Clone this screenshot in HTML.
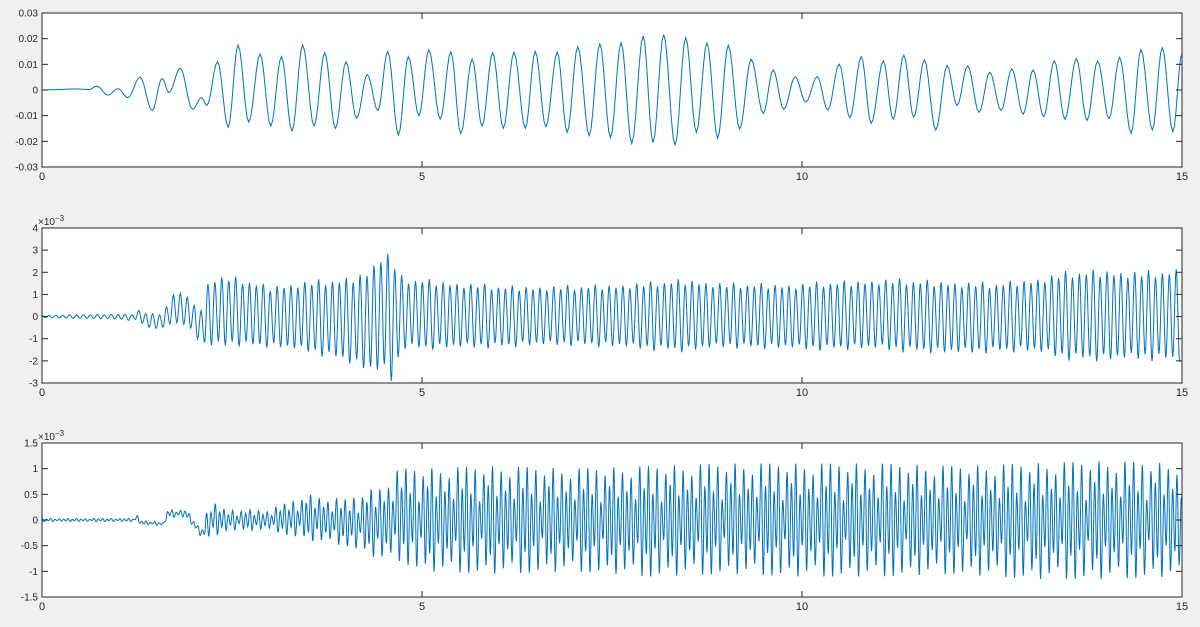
<!DOCTYPE html>
<html><head><meta charset="utf-8"><style>
html,body{margin:0;padding:0;background:#f0f0f0;}
svg{display:block;font-family:"Liberation Sans",sans-serif;}
</style></head><body>
<svg id="chart" width="1200" height="627" viewBox="0 0 1200 627"></svg>
<script>
// ---------- data: chart 1 (explicit extrema) ----------
const top_t = [0,0.45,0.62,0.72,0.87,1.0,1.13,1.29,1.45,1.58,1.67,1.82,1.98,2.1,2.17,2.31,2.45,2.58,2.72,2.87,3.01,3.15,3.29,3.43,3.58,3.72,3.86,4.0,4.14,4.28,4.42,4.55,4.69,4.82,4.96,
5.09,5.24,5.38,5.51,5.66,5.79,5.93,6.07,6.21,6.36,6.49,6.63,6.78,6.91,7.05,7.20,7.34,7.48,7.62,7.76,7.91,8.04,8.18,8.33,8.47,8.61,8.75,8.89,9.03,9.18,9.33,9.49,9.62,9.76,9.91,10.05,
10.2,10.34,10.49,10.63,10.78,10.91,11.07,11.2,11.34,11.47,11.61,11.76,11.91,12.04,12.18,12.33,12.47,12.62,12.76,12.91,13.04,13.18,13.32,13.46,13.61,13.75,13.89,14.04,14.18,14.33,14.46,14.61,14.74,14.88,15.0];
const top_v = [0,0.0004,0.0002,0.0015,-0.002,0.0005,-0.003,0.005,-0.008,0.0045,-0.001,0.0085,-0.0075,-0.003,-0.006,0.011,-0.0145,0.0175,-0.0125,0.014,-0.014,0.013,-0.016,0.0175,-0.014,0.0145,-0.015,0.011,-0.011,0.006,-0.008,0.015,-0.0175,0.013,-0.010,
0.0156,-0.0114,0.0149,-0.017,0.012,-0.014,0.0145,-0.0149,0.0147,-0.0149,0.015,-0.0143,0.0147,-0.0165,0.0169,-0.0178,0.018,-0.0186,0.0184,-0.0208,0.021,-0.0205,0.0216,-0.0216,0.0204,-0.0165,0.0184,-0.0188,0.0174,-0.0152,0.012,-0.0091,0.0078,-0.0075,0.0052,-0.0047,
0.0052,-0.0078,0.010,-0.0108,0.013,-0.013,0.0113,-0.0114,0.0136,-0.0106,0.0117,-0.0156,0.0095,-0.006,0.0094,-0.0087,0.0069,-0.008,0.0082,-0.0094,0.0078,-0.0104,0.0114,-0.0114,0.0123,-0.0119,0.0113,-0.0112,0.0127,-0.0169,0.0158,-0.0156,0.0165,-0.0162,0.0143];

// ---------- data: chart 2 (envelope, units 1e-3) ----------
const mid_envT  = [0,1.0,1.2,1.25,1.4,1.6,1.7,1.9,2.0,2.1,2.2,2.5,3.0,3.5,4.0,4.3,4.5,4.6,4.75,5,6,7,8,8.5,9,10,11,12,12.5,13,13.5,14,14.5,15];
const mid_envHi = [0.05,0.1,0.1,0.3,0.1,0.1,1.0,1.0,0.5,0.3,1.7,1.7,1.3,1.5,1.6,2.0,2.9,2.5,1.6,1.6,1.3,1.3,1.45,1.6,1.4,1.4,1.6,1.5,1.4,1.6,1.9,2.0,1.9,2.0];
const mid_envLo = [-0.05,-0.1,-0.2,-0.1,-0.5,-0.5,-0.3,-0.3,-0.8,-1.2,-1.3,-1.2,-1.3,-1.5,-1.9,-2.4,-2.4,-2.8,-1.3,-1.4,-1.3,-1.2,-1.4,-1.5,-1.3,-1.4,-1.4,-1.6,-1.5,-1.5,-1.8,-1.9,-1.8,-1.9];
const mid_period = 0.091;
const mid_var = [1,0.9,1.05,0.95,1.1,0.92,1,0.97,1.08,0.9,1.02,0.94];

// ---------- data: chart 3 (envelope, units 1e-3) ----------
const bot_envT  = [0,1.2,1.25,1.3,1.6,1.65,1.9,2.1,2.2,2.4,3.0,3.5,4.0,4.5,4.7,5,6,7,8,9,10,11,12,13,14,15];
const bot_envHi = [0.03,0.03,0.1,0.0,-0.05,0.2,0.2,-0.2,0.4,0.2,0.2,0.5,0.4,0.7,1.0,1.0,1.05,1.0,1.05,1.1,1.1,1.1,1.05,1.1,1.15,1.1];
const bot_envLo = [-0.03,-0.03,0.0,-0.1,-0.1,0.05,0.05,-0.35,-0.4,-0.2,-0.2,-0.4,-0.5,-0.8,-0.8,-1.0,-1.05,-1.0,-1.1,-1.05,-1.1,-1.1,-1.05,-1.15,-1.15,-1.1];
const bot_period = 0.057;
const bot_var = [1,0.5,0.95,0.35,0.85,0.65,1,0.45,0.9,0.55,0.8,0.4,1,0.6];

// ---------- axes configs ----------
const panels = [
 {name:'top',x0:42,x1:1182,y0:13,y1:167,ymin:-0.03,ymax:0.03,yticks:[-0.03,-0.02,-0.01,0,0.01,0.02,0.03],ylabels:['-0.03','-0.02','-0.01','0','0.01','0.02','0.03'],exp:false},
 {name:'middle',x0:42,x1:1182,y0:228,y1:383,ymin:-3,ymax:4,yticks:[-3,-2,-1,0,1,2,3,4],ylabels:['-3','-2','-1','0','1','2','3','4'],exp:true},
 {name:'bottom',x0:42,x1:1182,y0:443,y1:597,ymin:-1.5,ymax:1.5,yticks:[-1.5,-1,-0.5,0,0.5,1,1.5],ylabels:['-1.5','-1','-0.5','0','0.5','1','1.5'],exp:true}
];
const xticks=[0,5,10,15];
const NS='http://www.w3.org/2000/svg';
const svg=document.getElementById('chart');
function mk(tag,attrs,parent){const e=document.createElementNS(NS,tag);for(const k in attrs)e.setAttribute(k,attrs[k]);(parent||svg).appendChild(e);return e;}
function interp(ts,vs,t){if(t<=ts[0])return vs[0];for(let i=1;i<ts.length;i++){if(t<=ts[i]){const f=(t-ts[i-1])/(ts[i]-ts[i-1]);return vs[i-1]+f*(vs[i]-vs[i-1]);}}return vs[vs.length-1];}
function buildExtrema(envT,hi,lo,period,vari){
  const T=[],V=[];let k=0;
  for(let t=0;t<=15.0001;t+=period/2,k++){
    const h=interp(envT,hi,t),l=interp(envT,lo,t);
    const m=(h+l)/2,a=(h-l)/2*vari[Math.floor(k/2)%vari.length];
    T.push(t);V.push(k%2===0?m+a:m-a);
  }
  return [T,V];
}
function drawPanel(p,T,V){
  const g=mk('g',{});
  
  
  const xs=v=>p.x0+(v-0)/(15-0)*(p.x1-p.x0);
  const ys=v=>p.y1-(v-p.ymin)/(p.ymax-p.ymin)*(p.y1-p.y0);
  const bg=mk('rect',{x:p.x0,y:p.y0,width:p.x1-p.x0,height:p.y1-p.y0,fill:'#fff'},g);
  
  
  // line
  let d='';
  for(let i=0;i<T.length-1;i++){
    const n=6;
    for(let j=(i===0?0:1);j<=n;j++){
      const f=j/n,t=T[i]+f*(T[i+1]-T[i]);
      const w=(1-Math.cos(Math.PI*f))/2,v=V[i]+w*(V[i+1]-V[i]);
      d+=(d?'L':'M')+xs(t).toFixed(2)+','+ys(v).toFixed(2);
    }
  }
  const cp=mk('clipPath',{id:'clip-'+p.name},g);
  mk('rect',{x:p.x0,y:p.y0,width:p.x1-p.x0,height:p.y1-p.y0},cp);
  const path=mk('path',{d:d,fill:'none',stroke:'#0072BD','stroke-width':1,'clip-path':'url(#clip-'+p.name+')'},g);
  
  
  // ticks
  xticks.forEach(v=>{
    const x=xs(v);
    mk('line',{x1:x,x2:x,y1:p.y1,y2:p.y1-6,stroke:'#262626','stroke-width':1},g);
    mk('line',{x1:x,x2:x,y1:p.y0,y2:p.y0+6,stroke:'#262626','stroke-width':1},g);
    const tx=mk('text',{x:x,y:p.y1+13,'font-size':11,'text-anchor':'middle',fill:'#262626'},g);
    tx.textContent=String(v);
    
    
  });
  p.yticks.forEach((v,i)=>{
    const y=ys(v);
    mk('line',{x1:p.x0,x2:p.x0+6,y1:y,y2:y,stroke:'#262626','stroke-width':1},g);
    mk('line',{x1:p.x1,x2:p.x1-6,y1:y,y2:y,stroke:'#262626','stroke-width':1},g);
    const tx=mk('text',{x:p.x0-4,y:y+3.5,'font-size':10,'text-anchor':'end',fill:'#262626'},g);
    tx.textContent=p.ylabels[i];
    
    
  });
  const fr=mk('rect',{x:p.x0,y:p.y0,width:p.x1-p.x0,height:p.y1-p.y0,fill:'none',stroke:'#262626','stroke-width':1},g);
  
  
  if(p.exp){
    const e=mk('text',{x:p.x0-4,y:p.y0-3,'font-size':10,fill:'#262626'},g);
    
    
    e.innerHTML='×10<tspan dy="-4" font-size="8">−3</tspan>';
  }
}
drawPanel(panels[0],top_t,top_v);
const m=buildExtrema(mid_envT,mid_envHi,mid_envLo,mid_period,mid_var);
drawPanel(panels[1],m[0],m[1]);
const b=buildExtrema(bot_envT,bot_envHi,bot_envLo,bot_period,bot_var);
drawPanel(panels[2],b[0],b[1]);
</script>
</body></html>
